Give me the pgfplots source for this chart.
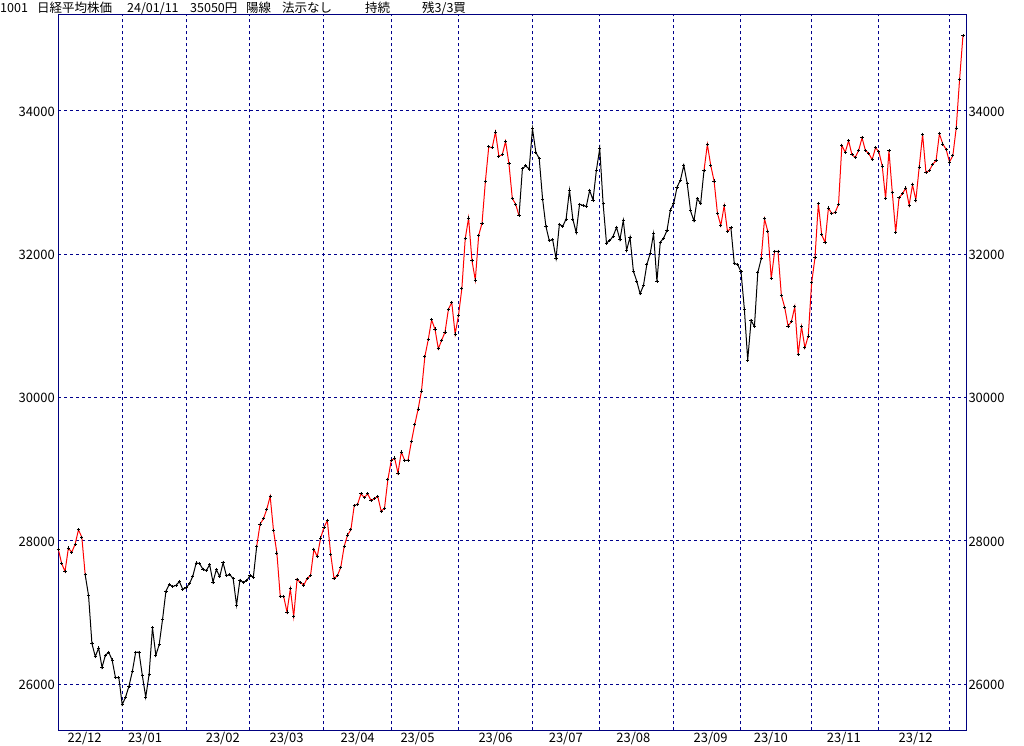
\documentclass[border=0pt]{standalone}
\usepackage{fontspec}
\setmainfont{Noto Sans CJK JP}
\usepackage{pgfplots}
\pgfplotsset{compat=1.18}
\usepackage{pgfplotstable}
\definecolor{navyf}{RGB}{0,0,128}
\definecolor{gridb}{RGB}{0,0,140}
\definecolor{redl}{RGB}{255,0,0}

\pgfplotstableread{
idx close
0 27885
1 27686
2 27574
3 27901
4 27842
5 27954
6 28156
7 28051
8 27527
9 27237
10 26568
11 26387
12 26507
13 26235
14 26405
15 26447
16 26340
17 26093
18 26094
19 25716
20 25820
21 25973
22 26175
23 26446
24 26449
25 26119
26 25822
27 26138
28 26791
29 26405
30 26553
31 26906
32 27299
33 27395
34 27362
35 27382
36 27433
37 27327
38 27346
39 27402
40 27509
41 27693
42 27685
43 27606
44 27584
45 27670
46 27427
47 27602
48 27501
49 27696
50 27513
51 27531
52 27473
53 27104
54 27453
55 27424
56 27445
57 27516
58 27498
59 27927
60 28237
61 28309
62 28444
63 28623
64 28143
65 27832
66 27222
67 27229
68 27010
69 27333
70 26945
71 27466
72 27419
73 27385
74 27476
75 27518
76 27883
77 27782
78 28041
79 28188
80 28287
81 27813
82 27472
83 27518
84 27633
85 27923
86 28082
87 28156
88 28493
89 28514
90 28658
91 28606
92 28657
93 28564
94 28593
95 28620
96 28416
97 28457
98 28856
99 29123
100 29157
101 28949
102 29242
103 29122
104 29126
105 29388
106 29626
107 29842
108 30093
109 30573
110 30808
111 31086
112 30957
113 30682
114 30801
115 30916
116 31233
117 31328
118 30887
119 31148
120 31524
121 32217
122 32506
123 31913
124 31641
125 32265
126 32434
127 33018
128 33502
129 33485
130 33706
131 33370
132 33388
133 33575
134 33264
135 32781
136 32698
137 32538
138 33193
139 33234
140 33189
141 33753
142 33422
143 33338
144 32773
145 32388
146 32189
147 32203
148 31943
149 32419
150 32391
151 32493
152 32896
153 32490
154 32304
155 32700
156 32682
157 32668
158 32891
159 32759
160 33172
161 33476
162 32707
163 32159
164 32192
165 32254
166 32377
167 32204
168 32473
169 32059
170 32238
171 31766
172 31626
173 31450
174 31565
175 31856
176 32010
177 32287
178 31624
179 32169
180 32226
181 32333
182 32619
183 32710
184 32939
185 33036
186 33241
187 32991
188 32606
189 32467
190 32776
191 32707
192 33168
193 33533
194 33242
195 33023
196 32571
197 32402
198 32678
199 32315
200 32371
201 31872
202 31857
203 31759
204 31237
205 30526
206 31075
207 30994
208 31746
209 31936
210 32494
211 32315
212 31659
213 32040
214 32042
215 31430
216 31259
217 30999
218 31062
219 31269
220 30601
221 30991
222 30697
223 30859
224 31601
225 31950
226 32709
227 32272
228 32166
229 32646
230 32568
231 32585
232 32695
233 33519
234 33424
235 33585
236 33388
237 33354
238 33452
239 33625
240 33447
241 33408
242 33321
243 33487
244 33431
245 33231
246 32776
247 33446
248 32858
249 32307
250 32791
251 32843
252 32926
253 32686
254 32970
255 32758
256 33219
257 33675
258 33141
259 33169
260 33255
261 33306
262 33681
263 33540
264 33464
265 33288
266 33377
267 33763
268 34441
269 35049
}\nk

\pgfplotsset{
  basech/.style={
    at={(58.3pt,14.7pt)}, anchor=south west,
    scale only axis, width=908pt, height=716pt,
    xmin=0, xmax=270, ymin=25358, ymax=35349,
    major tick length=0pt, minor tick length=0pt,
    /pgf/number format/assume math mode=true,
    ytick={26000,28000,30000,32000,34000},
    yticklabels={26000,28000,30000,32000,34000},
  },
}

\begin{document}
\begin{tikzpicture}[x=1pt,y=1pt]
\path[use as bounding box] (0,0) rectangle (1024,745);

\begin{axis}[basech,
  axis line style={navyf, line width=1pt},
  xtick={7.85,25.78,48.91,67.86,89.03,106.81,130.0,150.9,170.98,193.99,211.86,233.6,254.95},
  xticklabels={22/12,23/01,23/02,23/03,23/04,23/05,23/06,23/07,23/08,23/09,23/10,23/11,23/12},
  minor xtick={19,38,57,79,99,119,141,161,183,203,224,244,265},
  xmajorgrids=false, xminorgrids=true, ymajorgrids=true,
  grid style={gridb, line width=1pt, dash pattern=on 3pt off 3pt},
  minor grid style={gridb, line width=1pt, dash pattern=on 3pt off 3pt},
  xticklabel style={font=\fontsize{13}{14}\selectfont, anchor=base, inner sep=0pt, yshift=-12pt},
  yticklabel style={font=\fontsize{13}{14}\selectfont, anchor=base east, inner sep=0pt, xshift=-3.3pt, yshift=-5.2pt},
  clip=false,
]
\addplot[redl, line width=1pt, restrict x to domain=0:8] table[x=idx,y=close]{\nk};
\addplot[black, line width=1pt, restrict x to domain=8:59] table[x=idx,y=close]{\nk};
\addplot[redl, line width=1pt, restrict x to domain=59:137] table[x=idx,y=close]{\nk};
\addplot[black, line width=1pt, restrict x to domain=137:192] table[x=idx,y=close]{\nk};
\addplot[redl, line width=1pt, restrict x to domain=192:200] table[x=idx,y=close]{\nk};
\addplot[black, line width=1pt, restrict x to domain=200:209] table[x=idx,y=close]{\nk};
\addplot[redl, line width=1pt, restrict x to domain=209:269] table[x=idx,y=close]{\nk};
\addplot[only marks, mark=+, mark size=1.6pt, mark options={black, line width=0.8pt}] table[x=idx,y=close]{\nk};
\end{axis}

\begin{axis}[basech,
  axis line style={draw=none},
  xtick=\empty,
  yticklabel pos=right,
  yticklabel style={font=\fontsize{13}{14}\selectfont, anchor=base west, inner sep=0pt, xshift=2pt, yshift=-5.2pt},
]
\end{axis}

\begin{scope}[every node/.style={anchor=base west, inner sep=0pt, font=\fontsize{12.5}{13}\selectfont}]
\node at (0,732) {1001};
\node at (37,732) {日経平均株価};
\node at (127,732) {24/01/11};
\node at (190,732) {35050円};
\node at (246,732) {陽線};
\node at (282,732) {法示なし};
\node at (365,732) {持続};
\node at (422,732) {残3/3買};
\end{scope}
\end{tikzpicture}
\end{document}
